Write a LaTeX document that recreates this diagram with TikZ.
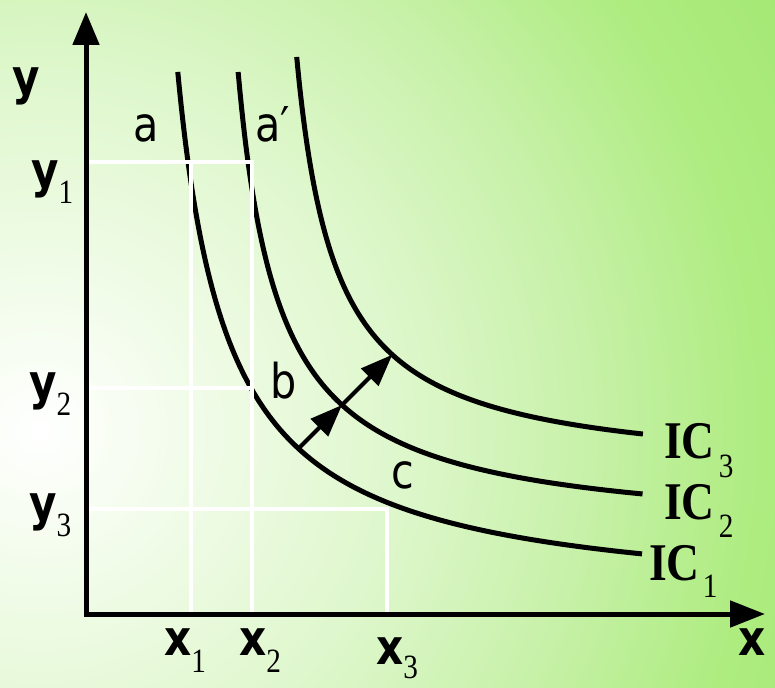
\documentclass[tikz,border=0pt]{standalone}
\usepackage{fontspec}
\usetikzlibrary{arrows.meta}
\newfontfamily\dvs{DejaVu Sans}[FakeStretch=0.86]
\newfontfamily\lser{Liberation Serif}[FakeStretch=0.86]
\definecolor{bgA}{HTML}{F2FCEA}
\definecolor{bgB}{HTML}{DEF7CC}
\definecolor{bgC}{HTML}{C8F1AA}
\definecolor{bgD}{HTML}{AEEC80}
\definecolor{bgE}{HTML}{A2E772}
\pgfdeclareradialshading{bgshade}{\pgfpointorigin}{color(0bp)=(white); color(4bp)=(bgA); color(10bp)=(bgB); color(15bp)=(bgC); color(20bp)=(bgD); color(25bp)=(bgE); color(50bp)=(bgE)}
\newcommand\mainlab[1]{{\fontsize{49}{49}\dvs\bfseries #1}}
\newcommand\sublab[2]{\raisebox{-#1}{\fontsize{34}{34}\lser #2}}
\newcommand\iclab{{\fontsize{53}{53}\lser\bfseries IC}}
\begin{document}
\begin{tikzpicture}[x=1pt,y=-1pt,
  curve/.style={line width=5pt},
  gridline/.style={white,line width=4.5pt},
  axisline/.style={line width=5pt,line join=miter,{Triangle[length=33pt,width=26pt]}-{Triangle[length=35pt,width=26pt]}},
  movearrow/.style={line width=4pt,-{Triangle[length=32pt,width=24pt]}},
  lab/.style={inner sep=0pt,anchor=base west},
  ptlab/.style={inner sep=0pt,anchor=base west,font=\fontsize{48}{48}\dvs}]
\useasboundingbox (0,0) rectangle (775,687);
\begin{scope}
  \clip (0,0) rectangle (775,687);
  \shade[shading=bgshade] (40,430) circle (900);
\end{scope}
% indifference curves
\draw[curve] plot[domain=-1.179:1.143,samples=120] ({127.2+164.4*exp(\x)},{606.4-164.4*exp(-\x)});
\draw[curve] plot[domain=-1.2124:1.171,samples=120] ({197+138.3*exp(\x)},{536.9-138.3*exp(-\x)});
\draw[curve] plot[domain=-1.1866:1.1015,samples=120] ({257.6+128.1*exp(\x)},{476.6-128.1*exp(-\x)});
% coordinates
\coordinate (O) at (86,614);
\coordinate (ytop) at (86,12);
\coordinate (xend) at (765,614);
\coordinate (y1L) at (86,162);
\coordinate (y1R) at (252,162);
\coordinate (x2B) at (252,614);
\coordinate (x1T) at (191,162);
\coordinate (x1B) at (191,614);
\coordinate (y2L) at (86,388);
\coordinate (y2R) at (252,388);
\coordinate (y3L) at (86,509);
\coordinate (y3R) at (387,509);
\coordinate (x3B) at (387,614);
\coordinate (p1) at (298.4,448.6);
\coordinate (p2) at (342,405);
\coordinate (p3) at (392.3,354.7);
% white guide lines
\draw[gridline] (y1L) -- (y1R) -- (x2B);
\draw[gridline] (x1T) -- (x1B);
\draw[gridline] (y2L) -- (y2R);
\draw[gridline] (y3L) -- (y3R) -- (x3B);
% shift arrows
\draw[movearrow] (p1) -- (p2);
\draw[movearrow] (p2) -- (p3);
% axes
\draw[axisline] (ytop) -- (O) -- (xend);
% labels
\node[lab] (ylab) at (12,95) {\mainlab{y}};
\node[lab] (y1lab) at (31,187) {\mainlab{y}\sublab{16pt}{1}};
\node[lab] (y2lab) at (29,399) {\mainlab{y}\sublab{16pt}{2}};
\node[lab] (y3lab) at (29,520) {\mainlab{y}\sublab{16pt}{3}};
\node[lab] (x1lab) at (164,655) {\mainlab{x}\sublab{17pt}{1}};
\node[lab] (x2lab) at (239,655) {\mainlab{x}\sublab{17pt}{2}};
\node[lab] (x3lab) at (376,664) {\mainlab{x}\sublab{14pt}{3}};
\node[lab] (xlab) at (738,655) {\mainlab{x}};
\node[lab] (ic3) at (664,458) {\iclab\hspace{4pt}\sublab{19pt}{3}};
\node[lab] (ic2) at (664,519) {\iclab\hspace{4pt}\sublab{18pt}{2}};
\node[lab] (ic1) at (649,580) {\iclab\hspace{3pt}\sublab{17pt}{1}};
\node[ptlab] (la) at (133,142) {a};
\node[ptlab] (la2) at (255,142) {a′};
\node[ptlab] (lb) at (270,398) {b};
\node[ptlab] (lc) at (391,488) {c};
\end{tikzpicture}
\end{document}
